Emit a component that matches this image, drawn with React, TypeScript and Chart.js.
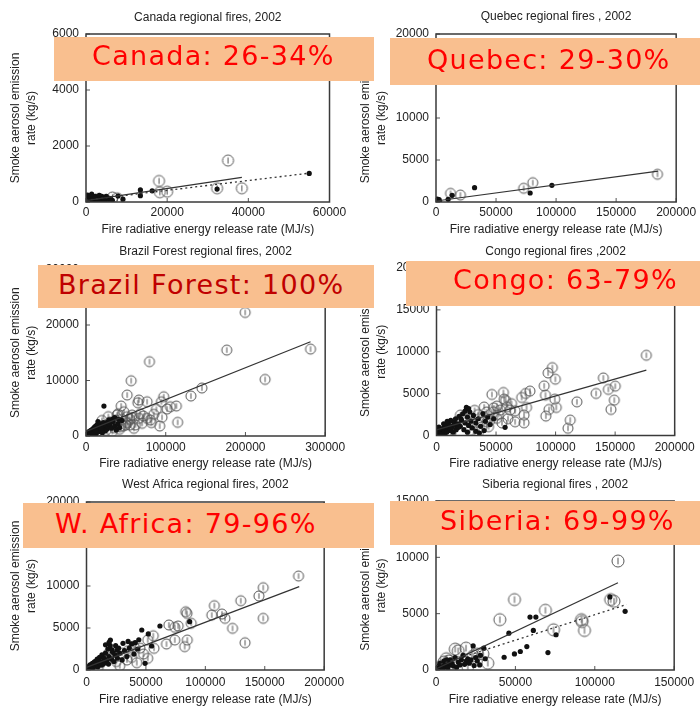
import React, { useEffect, useRef } from "react";
import { Chart, registerables } from "chart.js";
Chart.register(...registerables);

type P = [number, number];

// ---------- Canada ----------
const canadaBlack: P[] = [
  [55000, 1020], [32300, 460], [16300, 400], [13400, 430], [13400, 225], [9100, 100], [7900, 215],
  [300, 20], [500, 60], [700, 150], [900, 30], [1000, 220], [1200, 90], [1400, 280], [1500, 40], [1700, 160],
  [1900, 110], [2100, 60], [2300, 200], [2500, 130], [2700, 40], [2900, 90], [3100, 170], [3300, 240], [3500, 60],
  [3700, 140], [3900, 200], [4200, 100], [4500, 170], [4800, 60], [5200, 140], [5600, 90], [6000, 120], [6500, 60],
  [150, 80], [400, 250], [600, 10], [800, 100], [1100, 180], [1300, 10], [1600, 120], [2000, 20], [2200, 140],
  [2600, 70], [3000, 20], [3400, 110], [4000, 30], [4400, 60], [5000, 200], [200, 180], [100, 30], [50, 120],
];
const canadaOpen: P[] = [
  [35000, 1480], [18000, 750], [18200, 350], [20000, 370], [32300, 490], [38400, 490], [7700, 130],
  [3000, 100], [5000, 60], [1500, 60], [6500, 160],
];
const canadaOpenFit: P[] = [[0, 50], [38400, 880]];
const canadaBlackFit: P[] = [[0, 65], [55000, 1030]];
const canadaXTicks = [0, 20000, 40000, 60000];
const canadaYTicks = [0, 2000, 4000, 6000];

// ---------- Quebec ----------
const quebecBlack: P[] = [
  [32100, 1700], [96500, 1990], [78400, 1070], [13400, 800], [10100, 320],
  [300, 50], [600, 150], [900, 250], [1200, 80], [1500, 200], [1800, 30], [2200, 120], [2600, 280], [3000, 60],
  [400, 300], [800, 10], [1100, 350], [2000, 220], [2500, 20],
];
const quebecOpen: P[] = [[184400, 3300], [80600, 2300], [73000, 1630], [12100, 1030], [20300, 830]];
const quebecOpenFit: P[] = [[0, 120], [185000, 3680]];
const quebecXTicks = [0, 50000, 100000, 150000, 200000];
const quebecYTicks = [0, 5000, 10000, 15000, 20000];

// ---------- Brazil Forest ----------
const brazilBlack: P[] = [
  [22500, 5400], [15000, 2600], [1000, 200], [2000, 500], [3000, 300], [4000, 800], [5000, 600], [6000, 1000],
  [7000, 400], [8000, 1200], [9000, 700], [10000, 1500], [11000, 900], [12000, 1800], [13000, 1100], [14000, 2000],
  [15000, 1300], [16000, 800], [17000, 1600], [18000, 2200], [19000, 1000], [20000, 1800], [21000, 1300],
  [22000, 2400], [23000, 1500], [24000, 900], [25000, 2000], [26000, 1200], [27000, 2500], [28000, 1600],
  [30000, 2100], [32000, 1400], [34000, 2600], [36000, 1800], [38000, 1100], [40000, 2200], [42000, 1500],
  [45000, 2800], [500, 50], [1500, 100], [2500, 250], [3500, 150], [4500, 400], [5500, 300], [6500, 700],
  [7500, 900], [8500, 500], [9500, 1100], [10500, 600], [11500, 1300], [12500, 400], [13500, 1500], [14500, 700],
  [16500, 1100], [18500, 1400], [20500, 600], [3000, 700], [6000, 200], [9000, 300], [12000, 1000], [200, 100],
  [800, 20], [1200, 350], [2200, 80], [33000, 3000], [29000, 2900], [36000, 3300], [41000, 3000],
];
const brazilOpen: P[] = [
  [199600, 22260], [281600, 15660], [176600, 15480], [224600, 10200], [79600, 13400], [56600, 9960],
  [51600, 7380], [145400, 8640], [131600, 7200], [97500, 7080], [94600, 6180], [76600, 6180], [66250, 6480],
  [65000, 6000], [105800, 5280], [113300, 5400], [101700, 4860], [88300, 4800], [95400, 3360], [92500, 1800],
  [115000, 2460], [44100, 5400], [76600, 3180], [70400, 2280], [60000, 1380], [80800, 2880], [51600, 3480],
  [47500, 4380], [39100, 3780], [37100, 2880], [57900, 3780], [66250, 3180], [55000, 1980], [43300, 1680],
  [30000, 2500], [35000, 1500], [25000, 1000], [45000, 3000], [50000, 2000], [40000, 4000], [20000, 2800],
  [28000, 3500], [33000, 800], [38000, 2200], [42000, 1200], [47000, 1800], [15000, 900], [18000, 1800],
  [55000, 3000], [52000, 2400], [58000, 3300], [62000, 2000], [68000, 4000], [72000, 3600], [85000, 3900],
  [82000, 2400],
];
const brazilOpenFit: P[] = [[0, 820], [281600, 16970]];
const brazilXTicks = [0, 100000, 200000, 300000];
const brazilYTicks = [0, 10000, 20000, 30000];

// ---------- Congo ----------
const congoBlack: P[] = [
  [25100, 3350], [57600, 980], [1000, 150], [2000, 400], [3000, 250], [4000, 700], [5000, 500], [6000, 900],
  [7000, 300], [8000, 1200], [9000, 800], [10000, 1500], [11000, 600], [12000, 1800], [13000, 1100], [14000, 400],
  [15000, 1600], [16000, 2000], [17000, 900], [18000, 1400], [19000, 2300], [20000, 1100], [21000, 1800],
  [22000, 2600], [23000, 700], [24000, 1500], [26000, 2200], [27000, 1200], [28000, 2800], [29000, 1700],
  [30000, 900], [31000, 2400], [33000, 1500], [35000, 2000], [37000, 1100], [39000, 2600], [41000, 1700],
  [43000, 2200], [45000, 1300], [48000, 2000], [500, 50], [1500, 300], [2500, 100], [3500, 500], [4500, 200],
  [5500, 800], [6500, 600], [7500, 1000], [8500, 400], [9500, 1300], [12500, 900], [14500, 1300], [16500, 700],
  [18500, 1000], [20500, 2000], [24000, 2900], [27000, 3200], [3000, 800], [6000, 1400], [9000, 1700],
  [2000, 1000], [33000, 500], [36000, 300], [40000, 600], [26000, 400],
];
const congoOpen: P[] = [
  [176200, 9580], [97300, 8110], [93700, 7470], [99800, 6720], [90400, 5930], [91500, 4820], [99300, 4340],
  [94500, 3110], [100600, 3350], [91800, 2320], [117900, 4020], [112300, 1840], [110400, 860], [140100, 6880],
  [134000, 5020], [144300, 5500], [150100, 5890], [149300, 4220], [146500, 3110], [78500, 5300], [74800, 5020],
  [71500, 4540], [75600, 3350], [73500, 2440], [73500, 1520], [66000, 1640], [56200, 5140], [46500, 4900],
  [56800, 4340], [59000, 3430], [61800, 3030], [53500, 3030], [47900, 2830], [50600, 3510], [66000, 2950],
  [50600, 2050], [42300, 1640], [43700, 1050], [35400, 450], [39600, 2240], [20100, 2440], [30000, 1500],
  [35000, 2500], [38000, 1000], [42000, 2800], [45000, 1800], [25000, 1900], [28000, 600], [32000, 3000],
  [15000, 1200], [48000, 3300], [52000, 2500], [55000, 1500], [60000, 2000], [63000, 3800], [58000, 4200],
  [40000, 3400], [12000, 300],
];
const congoOpenFit: P[] = [[0, 675], [176200, 7800]];
const congoXTicks = [0, 50000, 100000, 150000, 200000];
const congoYTicks = [0, 5000, 10000, 15000, 20000];

// ---------- West Africa ----------
const wafricaBlack: P[] = [
  [46500, 4760], [61800, 5240], [86800, 5750], [41000, 3250], [30700, 3170], [20100, 3570], [54800, 2860],
  [49300, 800], [25700, 2380], [1000, 100], [2000, 300], [3000, 600], [4000, 200], [5000, 800], [6000, 400],
  [7000, 1000], [8000, 600], [9000, 1300], [10000, 800], [11000, 1500], [12000, 1000], [13000, 1800],
  [14000, 700], [15000, 1400], [16000, 2000], [17000, 1100], [18000, 2500], [19000, 1600], [20000, 2900],
  [21000, 1300], [22000, 2100], [23000, 1000], [24000, 1800], [26000, 1400], [28000, 2000], [30000, 1200],
  [32000, 2300], [34000, 1600], [36000, 2600], [38000, 3100], [40000, 1900], [43000, 2500], [44000, 3600],
  [35000, 3400], [500, 50], [1500, 200], [2500, 500], [3500, 100], [4500, 700], [5500, 300], [6500, 900],
  [7500, 500], [8500, 1100], [9500, 400], [12500, 600], [15500, 900], [18500, 700], [21500, 2400],
  [24500, 2900], [27000, 2600], [16000, 3000], [19000, 3300], [52000, 4300],
];
const wafricaOpen: P[] = [
  [178400, 11190], [148700, 9800], [145100, 8810], [129800, 8250], [107600, 7660], [83500, 6940], [84600, 6740],
  [105400, 6540], [114000, 6660], [116500, 6150], [148700, 6150], [122900, 4960], [133400, 3250], [88100, 5560],
  [77100, 5240], [69300, 5360], [74300, 5080], [84800, 3570], [82600, 2780], [74300, 3570], [67300, 3090],
  [56200, 4080], [51500, 3570], [56800, 2580], [51500, 1390], [42300, 870], [18700, 1990], [34000, 1190],
  [30000, 2000], [25000, 1000], [38000, 1500], [45000, 2600], [28000, 500], [22000, 1600], [15000, 1200],
  [10000, 400], [12000, 900], [35000, 2300], [48000, 1900], [40000, 2800],
];
const wafricaOpenFit: P[] = [[0, 310], [179000, 9920]];
const wafricaXTicks = [0, 50000, 100000, 150000, 200000];
const wafricaYTicks = [0, 5000, 10000, 15000, 20000];

// ---------- Siberia ----------
const siberiaBlack: P[] = [
  [119100, 5210], [109500, 6490], [59200, 4700], [62900, 4700], [45900, 3270], [61300, 3510], [75600, 3130],
  [57200, 2080], [53100, 1640], [49400, 1430], [42900, 1130], [70500, 1550], [30100, 1940], [23400, 2140],
  [27500, 450], [25000, 1100], [22000, 900], [20000, 1000], [18000, 500], [16000, 900], [14000, 700],
  [12000, 1100], [10000, 600], [9000, 900], [8000, 400], [7000, 700], [6000, 300], [5000, 800], [4000, 500],
  [3000, 200], [2000, 400], [1000, 100], [500, 50], [1500, 250], [2500, 600], [3500, 350], [4500, 150],
  [5500, 450], [6500, 900], [7500, 200], [8500, 650], [11000, 350], [13000, 250], [15000, 450], [17000, 1300],
  [19000, 800], [21000, 600], [24000, 400], [26000, 800], [28000, 1300], [31000, 1000],
];
const siberiaOpen: P[] = [
  [114600, 9670], [49400, 6250], [68900, 5300], [40200, 4470], [91600, 4470], [92000, 4300], [93500, 3510],
  [74000, 3570], [110000, 6250], [112100, 6100], [18900, 1940], [12100, 1850], [14000, 1700], [29500, 1430],
  [32600, 600], [23400, 1250], [5000, 700], [8000, 800], [3000, 300], [10000, 500], [20000, 300], [26000, 1400],
  [6500, 1000],
];
const siberiaOpenFit: P[] = [[0, 100], [114600, 7740]];
const siberiaBlackFit: P[] = [[0, 390], [120000, 5810]];
const siberiaXTicks = [0, 50000, 100000, 150000];
const siberiaYTicks = [0, 5000, 10000, 15000];

const panelTitles = [
  "Canada regional fires, 2002",
  "Quebec regional fires , 2002",
  "Brazil Forest regional fires, 2002",
  "Congo regional fires ,2002",
  "West Africa regional fires, 2002",
  "Siberia regional fires , 2002",
];
const xAxisTitle = "Fire radiative energy release rate (MJ/s)";
const yAxisTitle = ["Smoke aerosol emission", "rate (kg/s)"];
const boxLabels = [
  "Canada: 26-34%",
  "Quebec: 29-30%",
  "Brazil Forest: 100%",
  "Congo: 63-79%",
  "W. Africa: 79-96%",
  "Siberia: 69-99%",
];

// ---------- layout (positions / styles) ----------
type Layout = {
  left: number; top: number; w: number; h: number;
  pl: number; pr: number; pt: number; pb: number;
  titleY: number; xTitleY: number; openR: number;
};
const layouts: Layout[] = [
  { left: 0, top: 0, w: 350, h: 240, pl: 86, pr: 330, pt: 34, pb: 202, titleY: 18, xTitleY: 230, openR: 5.5 },
  { left: 350, top: 0, w: 350, h: 240, pl: 86, pr: 329, pt: 34, pb: 202, titleY: 17, xTitleY: 230, openR: 5 },
  { left: 0, top: 235, w: 350, h: 240, pl: 86, pr: 326, pt: 34.5, pb: 201, titleY: 17, xTitleY: 229, openR: 5 },
  { left: 350, top: 235, w: 350, h: 240, pl: 86.5, pr: 326.5, pt: 33, pb: 200.5, titleY: 17, xTitleY: 229, openR: 5 },
  { left: 0, top: 470, w: 350, h: 238, pl: 86.5, pr: 326, pt: 32, pb: 200, titleY: 15, xTitleY: 230, openR: 5 },
  { left: 350, top: 470, w: 350, h: 238, pl: 86, pr: 327, pt: 31, pb: 200, titleY: 15, xTitleY: 230, openR: 6 },
];
const boxes = [
  { x: 54, y: 37, w: 320, h: 44, tx: 38, ty: 42, color: "#ff0000" },
  { x: 390, y: 38, w: 310, h: 47, tx: 37, ty: 46, color: "#ff0000" },
  { x: 38, y: 265, w: 336, h: 43, tx: 20, ty: 271, color: "#c00000" },
  { x: 406, y: 261, w: 294, h: 45, tx: 47, ty: 265.5, color: "#ff0000" },
  { x: 23, y: 503, w: 351, h: 45, tx: 32, ty: 510, color: "#ff0000" },
  { x: 390, y: 501, w: 310, h: 44, tx: 50, ty: 506.5, color: "#ff0000" },
];

type PanelData = {
  black: P[]; open: P[]; openFit: P[]; blackFit?: P[];
  xTicks: number[]; yTicks: number[];
};
const panels: PanelData[] = [
  { black: canadaBlack, open: canadaOpen, openFit: canadaOpenFit, blackFit: canadaBlackFit, xTicks: canadaXTicks, yTicks: canadaYTicks },
  { black: quebecBlack, open: quebecOpen, openFit: quebecOpenFit, xTicks: quebecXTicks, yTicks: quebecYTicks },
  { black: brazilBlack, open: brazilOpen, openFit: brazilOpenFit, xTicks: brazilXTicks, yTicks: brazilYTicks },
  { black: congoBlack, open: congoOpen, openFit: congoOpenFit, xTicks: congoXTicks, yTicks: congoYTicks },
  { black: wafricaBlack, open: wafricaOpen, openFit: wafricaOpenFit, xTicks: wafricaXTicks, yTicks: wafricaYTicks },
  { black: siberiaBlack, open: siberiaOpen, openFit: siberiaOpenFit, blackFit: siberiaBlackFit, xTicks: siberiaXTicks, yTicks: siberiaYTicks },
];

const TEXT = "#222";
const FONT = "'Liberation Sans', Arial, sans-serif";

function openMarker(r: number): HTMLCanvasElement {
  const s = Math.ceil(r * 2 + 4);
  const c = document.createElement("canvas");
  c.width = s;
  c.height = s;
  const g = c.getContext("2d")!;
  g.strokeStyle = "#555";
  g.lineWidth = 1;
  g.beginPath();
  g.arc(s / 2, s / 2, r, 0, Math.PI * 2);
  g.stroke();
  g.beginPath();
  g.moveTo(s / 2, s / 2 - r * 0.55);
  g.lineTo(s / 2, s / 2 + r * 0.55);
  g.stroke();
  return c;
}

const framePlugin = {
  id: "frameBox",
  afterDatasetsDraw(chart: any) {
    const { ctx, chartArea: a, scales } = chart;
    ctx.save();
    ctx.strokeStyle = "#555";
    ctx.lineWidth = 1;
    for (const t of scales.x.ticks) {
      const px = scales.x.getPixelForValue(t.value);
      ctx.beginPath();
      ctx.moveTo(px, a.bottom);
      ctx.lineTo(px, a.bottom - 4);
      ctx.stroke();
    }
    for (const t of scales.y.ticks) {
      const py = scales.y.getPixelForValue(t.value);
      ctx.beginPath();
      ctx.moveTo(a.left, py);
      ctx.lineTo(a.left + 4, py);
      ctx.stroke();
    }
    ctx.strokeStyle = "#3a3a3a";
    ctx.lineWidth = 1.5;
    ctx.strokeRect(a.left, a.top, a.right - a.left, a.bottom - a.top);
    ctx.restore();
  },
};

function Panel({ idx }: { idx: number }) {
  const ref = useRef<HTMLCanvasElement>(null);
  useEffect(() => {
    const L = layouts[idx];
    const d = panels[idx];
    const marker = openMarker(L.openR);
    const datasets: any[] = [
      {
        type: "scatter",
        data: d.black.map(([x, y]) => ({ x, y })),
        pointRadius: 2.6,
        pointBackgroundColor: "#111",
        pointBorderWidth: 0,
        order: 1,
      },
      {
        type: "scatter",
        data: d.open.map(([x, y]) => ({ x, y })),
        pointStyle: marker,
        pointRadius: L.openR,
        order: 2,
      },
      {
        type: "line",
        data: d.openFit.map(([x, y]) => ({ x, y })),
        borderColor: "#333",
        borderWidth: 1.2,
        pointRadius: 0,
        order: 0,
      },
    ];
    if (d.blackFit) {
      datasets.push({
        type: "line",
        data: d.blackFit.map(([x, y]) => ({ x, y })),
        borderColor: "#333",
        borderWidth: 1.3,
        borderDash: [2, 3],
        pointRadius: 0,
        order: 0,
      });
    }
    const xMax = d.xTicks[d.xTicks.length - 1];
    const yMax = d.yTicks[d.yTicks.length - 1];
    const chart = new Chart(ref.current!, {
      type: "scatter",
      data: { datasets },
      plugins: [framePlugin],
      options: {
        animation: false,
        responsive: false,
        devicePixelRatio: 1,
        events: [],
        font: { family: FONT },
        layout: { padding: { left: 0, right: L.w - L.pr, top: 0, bottom: 0 } },
        plugins: {
          legend: { display: false },
          tooltip: { enabled: false },
          title: {
            display: true,
            text: panelTitles[idx],
            fullSize: false,
            color: TEXT,
            font: { family: FONT, size: 12, weight: "normal", lineHeight: 1.2 },
            padding: { top: L.titleY - 7.2, bottom: L.pt - L.titleY - 7.2 },
          },
        },
        scales: {
          x: {
            type: "linear",
            min: 0,
            max: xMax,
            grid: { display: false, drawTicks: false },
            border: { display: false },
            afterBuildTicks: (s: any) => {
              s.ticks = d.xTicks.map((v) => ({ value: v }));
            },
            afterFit: (s: any) => {
              s.height = L.h - L.pb;
            },
            ticks: {
              color: TEXT,
              font: { family: FONT, size: 12, lineHeight: 1.2 },
              padding: 213 - L.pb - 7.2,
              maxRotation: 0,
              autoSkip: false,
              callback: (v: any) => String(v),
            },
            title: {
              display: true,
              text: xAxisTitle,
              color: TEXT,
              font: { family: FONT, size: 12, lineHeight: 1.2 },
              padding: { top: 0, bottom: L.h - L.xTitleY - 7.2 },
            },
          },
          y: {
            type: "linear",
            min: 0,
            max: yMax,
            grid: { display: false, drawTicks: false },
            border: { display: false },
            afterBuildTicks: (s: any) => {
              s.ticks = d.yTicks.map((v) => ({ value: v }));
            },
            afterFit: (s: any) => {
              s.width = L.pl;
            },
            ticks: {
              color: TEXT,
              font: { family: FONT, size: 12, lineHeight: 1.2 },
              padding: 7,
              autoSkip: false,
              callback: (v: any) => String(v),
            },
            title: {
              display: true,
              text: yAxisTitle,
              color: TEXT,
              font: { family: FONT, size: 12, lineHeight: 1.33 },
              padding: { top: 8, bottom: 0 },
            },
          },
        },
      } as any,
    });
    return () => chart.destroy();
  }, [idx]);
  const L = layouts[idx];
  return (
    <canvas
      ref={ref}
      width={L.w}
      height={L.h}
      style={{ position: "absolute", left: L.left, top: L.top, width: L.w, height: L.h }}
    />
  );
}

export default function App() {
  return (
    <div
      style={{
        position: "absolute",
        left: 0,
        top: 0,
        width: 700,
        height: 708,
        overflow: "hidden",
        background: "#fff",
      }}
    >
      {layouts.map((_, i) => (
        <Panel key={i} idx={i} />
      ))}
      {boxes.map((b, i) => (
        <div
          key={"b" + i}
          style={{
            position: "absolute",
            left: b.x,
            top: b.y,
            width: b.w,
            height: b.h,
            background: "#f9bf8f",
            zIndex: 2,
          }}
        />
      ))}
      {boxes.map((b, i) => (
        <div
          key={"t" + i}
          style={{
            position: "absolute",
            left: b.x + b.tx,
            top: b.ty,
            fontFamily: "'DejaVu Sans', sans-serif",
            fontSize: 27,
            lineHeight: "27px",
            letterSpacing: 1.3,
            whiteSpace: "nowrap",
            color: b.color,
            zIndex: 3,
          }}
        >
          {boxLabels[i]}
        </div>
      ))}
    </div>
  );
}
